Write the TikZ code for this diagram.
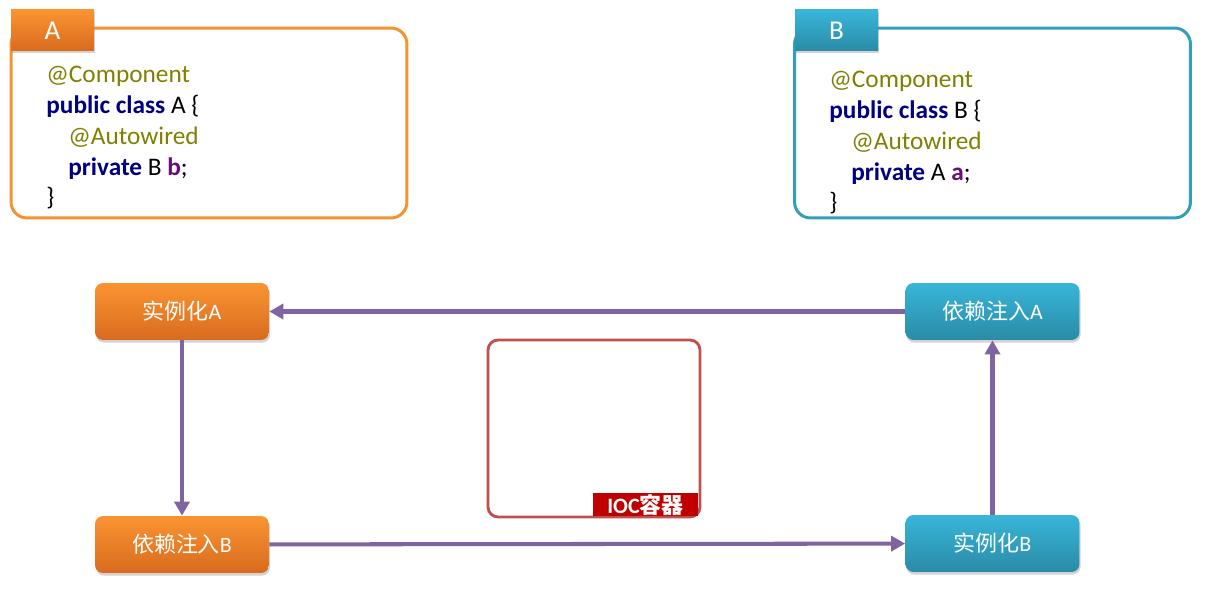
\documentclass[tikz,border=0pt]{standalone}
\usepackage{fontspec}
\setmainfont{Carlito}
\newfontfamily\cjk{Noto Sans CJK SC}
\usetikzlibrary{arrows.meta,shadows}

\definecolor{aorange}{HTML}{F7922F}
\definecolor{aorangetop}{HTML}{FA9432}
\definecolor{aorangebot}{HTML}{D86B1E}
\definecolor{bteal}{HTML}{339EB8}
\definecolor{btealtop}{HTML}{38B6DA}
\definecolor{btealbot}{HTML}{2A8BA6}
\definecolor{flowline}{HTML}{8064A2}
\definecolor{iocred}{HTML}{C0504D}
\definecolor{ioclabel}{HTML}{C00000}
\definecolor{anno}{HTML}{808000}
\definecolor{kw}{HTML}{000080}
\definecolor{fld}{HTML}{660E7A}

\newcommand{\kw}[1]{{\color{kw}\bfseries #1}}
\newcommand{\anno}[1]{{\color{anno}#1}}
\newcommand{\fld}[1]{{\color{fld}\bfseries #1}}

\begin{document}
\begin{tikzpicture}[
    x=0.02cm, y=-0.02cm,
    codebox/.style={rectangle, draw=#1, line width=1.7pt, rounded corners=0.32cm,
        minimum width=7.92cm, minimum height=3.8cm},
    tab/.style={rectangle, top color=#1top, bottom color=#1bot, text=white,
        minimum width=1.66cm, minimum height=0.82cm, font=\fontsize{15.5}{17}\selectfont,
        drop shadow={opacity=0.35, shadow xshift=0.6pt, shadow yshift=-1.2pt}},
    code/.style={anchor=base west, inner sep=0pt, align=left,
        font=\fontsize{14.4}{17.6}\selectfont},
    flow/.style={rectangle, rounded corners=0.16cm, top color=#1top, bottom color=#1bot,
        text=white, minimum width=3.48cm, minimum height=1.14cm,
        font=\fontsize{12.5}{14}\selectfont,
        drop shadow={opacity=0.35, shadow xshift=0.6pt, shadow yshift=-1.5pt}},
    link/.style={draw=flowline, line width=2.3pt, -{Triangle[length=0.28cm, width=0.3cm]}}
]
    \useasboundingbox (0,0) rectangle (1223,597);

    % Classes
    \node[codebox=aorange] (boxA) at (209,123) {};
    \node[tab=aorange] (tabA) at (52.5,30.5) {A};
    \node[code] (codeA) at (46,206) {
        \anno{@Component}\\
        \kw{public class} A \{\\
        \hspace*{0.44cm}\anno{@Autowired}\\
        \hspace*{0.44cm}\kw{private} B \fld{b};\\
        \}
    };

    \node[codebox=bteal] (boxB) at (992.5,123) {};
    \node[tab=bteal] (tabB) at (836.5,30.5) {B};
    \node[code] (codeB) at (829,211) {
        \anno{@Component}\\
        \kw{public class} B \{\\
        \hspace*{0.44cm}\anno{@Autowired}\\
        \hspace*{0.44cm}\kw{private} A \fld{a};\\
        \}
    };

    % Container
    \node[rectangle, draw=iocred, line width=1.6pt, rounded corners=0.2cm,
        minimum width=4.24cm, minimum height=3.54cm] (ioc) at (594,428.5) {};
    \node[rectangle, fill=ioclabel, text=white, minimum width=2.1cm, minimum height=0.46cm,
        inner sep=0pt, font=\fontsize{12.5}{13}\selectfont\bfseries] (ioclbl) at (645.5,504.5)
        {IOC{\cjk\bfseries 容器}};

    % Steps
    \node[flow=aorange] (newA) at (182,311.5) {{\cjk 实例化}A};
    \node[flow=bteal] (injectA) at (992.5,311.5) {{\cjk 依赖注入}A};
    \node[flow=aorange] (injectB) at (182,544.5) {{\cjk 依赖注入}B};
    \node[flow=bteal] (newB) at (992.5,543.5) {{\cjk 实例化}B};

    % Flow
    \draw[link] (injectA) -- (newA);
    \draw[link] (newA) -- (injectB);
    \draw[link] (injectB) -- (newB);
    \draw[link] (newB) -- (injectA);

\end{tikzpicture}
\end{document}
